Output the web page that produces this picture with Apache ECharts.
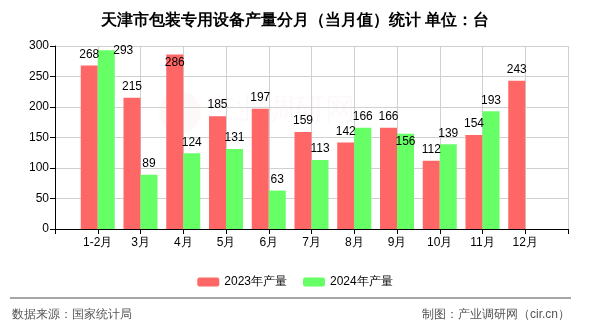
<!DOCTYPE html>
<html>
<head>
<meta charset="utf-8">
<script src="https://cdn.jsdelivr.net/npm/echarts@6/dist/echarts.min.js"></script>
<style>
  html, body { margin: 0; padding: 0; background: #fff; }
  #chart { width: 590px; height: 330px; }
</style>
</head>
<body>
<div id="chart"></div>
<script>
// Monthly output of packaging machinery in Tianjin (units)
var months = ['1-2月', '3月', '4月', '5月', '6月', '7月', '8月', '9月', '10月', '11月', '12月'];
var output2023 = [268, 215, 286, 185, 197, 159, 142, 166, 112, 154, 243];
var output2024 = [293, 89, 124, 131, 63, 113, 166, 156, 139, 193, null];
var yTicks = { min: 0, max: 300, interval: 50 };

// label nudges where neighbouring value labels would collide
var labelShift2023 = { 2: [0, 19] };
var labelShift2024 = { 0: [17, 11], 7: [0, 19] };

// axis runs with an empty slot at each end so bars sit on the ticks
var categories = [''].concat(months, ['']);

function buildSeriesData(values, shifts) {
  var out = ['-'];
  values.forEach(function (v, i) {
    if (v === null) { out.push('-'); return; }
    var item = { value: v };
    if (shifts[i]) item.label = { offset: shifts[i] };
    out.push(item);
  });
  out.push('-');
  return out;
}

var chart = echarts.init(document.getElementById('chart'), null, { renderer: 'canvas' });

var labelStyle = {
  show: true,
  position: 'top',
  distance: 5,
  color: '#000',
  fontSize: 12,
  fontFamily: 'sans-serif'
};

chart.setOption({
  animation: false,
  backgroundColor: '#fff',
  title: {
    text: '天津市包装专用设备产量分月（当月值）统计 单位：台',
    left: 'center',
    top: 8,
    textStyle: { fontSize: 16, fontWeight: 'bold', color: '#000', fontFamily: 'sans-serif' }
  },
  legend: {
    top: 271,
    left: 'center',
    itemWidth: 22,
    itemHeight: 9,
    itemGap: 16,
    textStyle: { fontSize: 12, color: '#000', fontFamily: 'sans-serif' },
    data: ['2023年产量', '2024年产量']
  },
  grid: { left: 55, right: 22, top: 46, bottom: 101, containLabel: false },
  xAxis: {
    type: 'category',
    data: categories,
    boundaryGap: false,
    axisLine: { lineStyle: { color: '#000', width: 1 } },
    axisTick: { show: true, length: 5, lineStyle: { color: '#000' } },
    axisLabel: { color: '#000', fontSize: 12, margin: 8, interval: 0, fontFamily: 'sans-serif' },
    splitLine: { show: true, lineStyle: { color: '#d0d0d0', width: 1 } }
  },
  yAxis: {
    type: 'value',
    min: yTicks.min,
    max: yTicks.max,
    interval: yTicks.interval,
    axisLine: { show: true, lineStyle: { color: '#000', width: 1 } },
    axisTick: { show: true, length: 5, lineStyle: { color: '#000' } },
    axisLabel: { color: '#000', fontSize: 12, margin: 6, fontFamily: 'sans-serif' },
    splitLine: { show: true, lineStyle: { color: '#d0d0d0', width: 1 } }
  },
  series: [
    {
      name: '2023年产量',
      type: 'bar',
      barWidth: 17,
      barGap: '0%',
      itemStyle: { color: '#ff6666' },
      label: labelStyle,
      data: buildSeriesData(output2023, labelShift2023)
    },
    {
      name: '2024年产量',
      type: 'bar',
      barWidth: 17,
      barGap: '0%',
      itemStyle: { color: '#66ff66' },
      label: labelStyle,
      data: buildSeriesData(output2024, labelShift2024)
    }
  ],
  graphic: [
    {
      type: 'text',
      left: 205,
      top: 96,
      z: -1,
      silent: true,
      style: {
        text: '产业调研网',
        fontSize: 30,
        fontFamily: 'sans-serif',
        fill: 'rgba(230, 90, 90, 0.04)'
      }
    },
    {
      type: 'circle',
      shape: { cx: 180, cy: 112, r: 21 },
      z: -1,
      silent: true,
      style: { fill: 'rgba(230, 90, 90, 0.035)' }
    },
    {
      type: 'line',
      shape: { x1: 10, y1: 298, x2: 571, y2: 298 },
      style: { stroke: '#888', lineWidth: 1.5 }
    },
    {
      type: 'text',
      left: 12,
      top: 309,
      style: {
        text: '数据来源：国家统计局',
        fontSize: 12,
        fill: '#555',
        fontFamily: 'sans-serif'
      }
    },
    {
      type: 'text',
      right: 20,
      top: 309,
      style: {
        text: '制图：产业调研网（cir.cn）',
        fontSize: 12,
        fill: '#555',
        fontFamily: 'sans-serif'
      }
    }
  ]
});
</script>
</body>
</html>
